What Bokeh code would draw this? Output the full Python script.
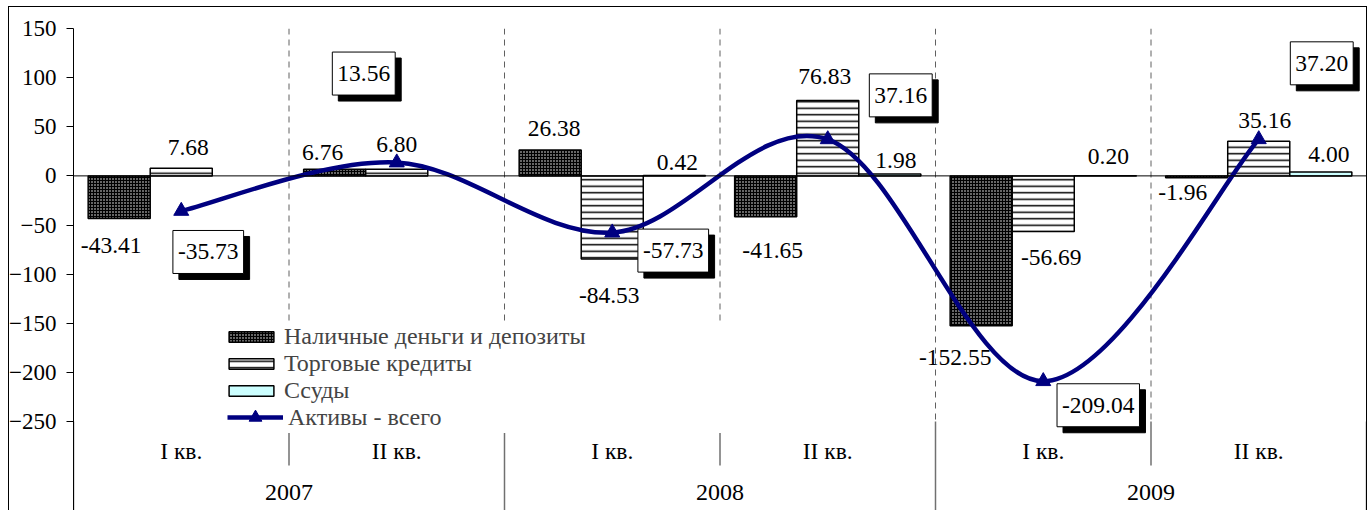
import numpy as np
from bokeh.plotting import figure
from bokeh.models import (ColumnDataSource, LabelSet, Label, Legend, LegendItem, Span,
                          FixedTicker, Range1d, InlineStyleSheet)
from bokeh.embed import file_html
from bokeh.resources import INLINE

# ---------------- data ----------------
years = ["2007", "2008", "2009"]
quarters = ["I кв.", "II кв.", "I кв.", "II кв.", "I кв.", "II кв."]
series_names = ["Наличные деньги и депозиты", "Торговые кредиты", "Ссуды", "Активы - всего"]
cash = [-43.41, 6.76, 26.38, -41.65, -152.55, -1.96]
trade = [7.68, 6.80, -84.53, 76.83, -56.69, 35.16]
loans = [None, None, 0.42, 1.98, 0.20, 4.00]
total = [-35.73, 13.56, -57.73, 37.16, -209.04, 37.20]
y_ticks = [-250, -200, -150, -100, -50, 0, 50, 100, 150]

# label nudges in screen pixels (right, down)
cash_lbl_dx = [-8, -12, 4, 7, -26, -14]
cash_lbl_dy = [27, -17, -21, 34, 32, 15]
trade_lbl_dx = [7, 0, -3, -3, 8, 6]
trade_lbl_dy = [-21, -25, 37, -24, 26, -21]
loans_lbl_dx = [0, 0, 3, 6, 3, 8]
loans_lbl_dy = [0, 0, -13, -13, -19, -17]
total_lbl_dx = [27, -33, 61, 73, 55, 63]
total_lbl_dy = [41, -89, 18, -44, 24, -76]

FONT = "Liberation Serif"
NAVY = "#000080"
VAL_FS = "23.5px"

W, H = 1368, 510
TOP, LEFT, RIGHT = 28, 73, 2
frame_h = H - TOP
ppu = 0.9825  # pixels per unit on the value axis
y_top = y_ticks[-1]
y_bottom = y_top - frame_h / ppu

n = len(quarters)
xc = np.arange(n) + 0.5
bw = 0.288

css = InlineStyleSheet(css="""
:host { position: relative; }
:host::after { content: ""; position: absolute; left: 8px; top: 6px; right: 1px; bottom: -4px;
  border: 1px solid black; pointer-events: none; z-index: 100; }
""")

p = figure(width=W, height=H, output_backend="svg", toolbar_location=None,
           x_range=Range1d(0, n), y_range=Range1d(y_bottom, y_top),
           x_axis_location=None, min_border_left=LEFT, min_border_right=RIGHT,
           min_border_top=TOP, min_border_bottom=0)
p.stylesheets = [css]
p.outline_line_color = None
p.xgrid.visible = False
p.ygrid.visible = False
p.background_fill_color = "white"
p.border_fill_color = "white"

yax = p.yaxis[0]
yax.ticker = FixedTicker(ticks=y_ticks)
yax.axis_line_color = "black"
yax.axis_line_width = 1
yax.major_tick_out = 7
yax.major_tick_in = 0
yax.minor_tick_line_color = None
yax.major_label_text_font = FONT
yax.major_label_text_font_size = "23px"
yax.major_label_text_color = "black"
yax.major_label_standoff = 10

# dashed separators inside the plot
ymin_tick = y_ticks[0]
inner = np.arange(1, n)
p.segment(x0=inner, y0=[y_top] * len(inner), x1=inner, y1=[ymin_tick] * len(inner),
          line_color="#606060", line_width=1, line_dash="6 5")

# category axis separators under the plot
q_sep = np.array([1, 3, 5])
y_sep = np.array([0, 2, 4, 6])
p.segment(x0=q_sep, y0=[ymin_tick] * 3, x1=q_sep, y1=[ymin_tick - 44 / ppu] * 3,
          line_color="#707070", line_width=1.5)
p.segment(x0=y_sep, y0=[ymin_tick] * 4, x1=y_sep, y1=[y_bottom] * 4,
          line_color="#707070", line_width=1.5)

p.add_layout(Span(location=0, dimension="width", line_color="black", line_width=1))

# bars
cash_src = ColumnDataSource(dict(x=xc - bw, top=cash,
                                 text=[f"{v:.2f}" for v in cash],
                                 dx=cash_lbl_dx, dy=[-d for d in cash_lbl_dy]))
trade_src = ColumnDataSource(dict(x=xc, top=trade,
                                  text=[f"{v:.2f}" for v in trade],
                                  dx=trade_lbl_dx, dy=[-d for d in trade_lbl_dy]))
li = [i for i, v in enumerate(loans) if v is not None]
loans_src = ColumnDataSource(dict(x=[xc[i] + bw for i in li], top=[loans[i] for i in li],
                                  text=[f"{loans[i]:.2f}" for i in li],
                                  dx=[loans_lbl_dx[i] for i in li],
                                  dy=[-loans_lbl_dy[i] for i in li]))

r_cash = p.vbar(x="x", top="top", bottom=0, width=bw, source=cash_src,
                fill_color="black", hatch_pattern="dot", hatch_color="white",
                hatch_scale=3, hatch_weight=1, line_color="black", line_width=1.5)
r_trade = p.vbar(x="x", top="top", bottom=0, width=bw, source=trade_src,
                 fill_color="white", hatch_pattern="horizontal_line", hatch_color="black",
                 hatch_scale=6.5, hatch_weight=1.5, line_color="black", line_width=1.5)
r_loans = p.vbar(x="x", top="top", bottom=0, width=bw, source=loans_src,
                 fill_color="#CCFFFF", line_color="black", line_width=1.5)

for src in (cash_src, trade_src, loans_src):
    p.add_layout(LabelSet(x="x", y="top", text="text", source=src,
                          x_offset="dx", y_offset="dy",
                          text_align="center", text_baseline="middle",
                          text_font=FONT, text_font_size=VAL_FS, text_color="black"))

# smoothed total line (Bezier segments through the data points)
P = np.column_stack([xc, np.array(total, dtype=float)])
x0, y0, x1, y1, cx0, cy0, cx1, cy1 = ([] for _ in range(8))
for i in range(n - 1):
    prev = P[i - 1] if i > 0 else P[i]
    nxt = P[i + 2] if i + 2 < n else P[i + 1]
    c0 = P[i] + (P[i + 1] - prev) / 6
    c1 = P[i + 1] - (nxt - P[i]) / 6
    x0.append(P[i][0]); y0.append(P[i][1]); x1.append(P[i + 1][0]); y1.append(P[i + 1][1])
    cx0.append(c0[0]); cy0.append(c0[1]); cx1.append(c1[0]); cy1.append(c1[1])
p.bezier(x0=x0, y0=y0, x1=x1, y1=y1, cx0=cx0, cy0=cy0, cx1=cx1, cy1=cy1,
         line_color=NAVY, line_width=4.5)
# single-point line: draws nothing on the plot, gives the legend its line sample
r_line_leg = p.line(x=[xc[0]], y=[total[0]], line_color=NAVY, line_width=4.5)
r_mark = p.scatter(x=xc, y=total, marker="triangle", size=15,
                   fill_color=NAVY, line_color=NAVY)

# boxed labels for the total, with a drop shadow
for i in range(n):
    for shadow in (True, False):
        sh = 6 if shadow else 0
        p.add_layout(Label(x=float(xc[i]), y=total[i], text=f"{total[i]:.2f}",
                           x_offset=total_lbl_dx[i] + sh, y_offset=-(total_lbl_dy[i] + sh),
                           text_align="center", text_baseline="middle",
                           text_font=FONT, text_font_size=VAL_FS, text_color="black",
                           background_fill_color="black" if shadow else "white",
                           border_line_color="black", border_line_width=1,
                           padding=dict(left=5, right=5, top=14, bottom=14)))

# category labels (quarters, years)
q_src = ColumnDataSource(dict(x=xc, y=[ymin_tick] * n, text=quarters))
yr_src = ColumnDataSource(dict(x=[1.0, 3.0, 5.0], y=[ymin_tick] * 3, text=years))
p.add_layout(LabelSet(x="x", y="y", text="text", source=q_src, y_offset=-29,
                      text_align="center", text_baseline="middle",
                      text_font=FONT, text_font_size=VAL_FS, text_color="black"))
p.add_layout(LabelSet(x="x", y="y", text="text", source=yr_src, y_offset=-71,
                      text_align="center", text_baseline="middle",
                      text_font=FONT, text_font_size="24px", text_color="black"))

leg_common = dict(orientation="vertical", glyph_width=56,
                  label_text_font=FONT, label_text_font_size="24px", label_standoff=5,
                  spacing=0, margin=0, border_line_color=None,
                  background_fill_color="white", background_fill_alpha=1.0,
                  label_width=440, label_height=20)
legend2 = Legend(items=[
    LegendItem(label=series_names[3], renderers=[r_line_leg, r_mark]),
], location=(154, 77), glyph_height=32, padding=0, **leg_common)
legend1 = Legend(items=[
    LegendItem(label=series_names[0], renderers=[r_cash]),
    LegendItem(label=series_names[1], renderers=[r_trade]),
    LegendItem(label=series_names[2], renderers=[r_loans]),
], location=(150, 106), glyph_height=13, padding=4, **leg_common)
p.add_layout(legend2)
p.add_layout(legend1)

open("out.html", "w").write(file_html(p, INLINE))
